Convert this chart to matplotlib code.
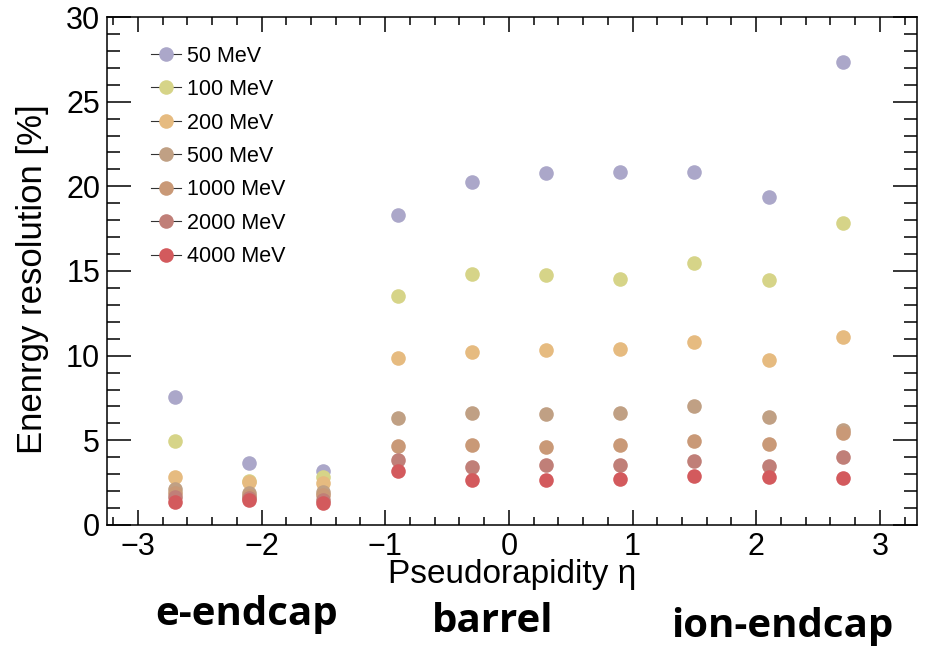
import numpy as np
import matplotlib.pyplot as plt
from matplotlib.lines import Line2D
from matplotlib.ticker import MultipleLocator

eta = [-2.7, -2.1, -1.5, -0.9, -0.3, 0.3, 0.9, 1.5, 2.1, 2.7]
energies = ["50 MeV", "100 MeV", "200 MeV", "500 MeV", "1000 MeV", "2000 MeV", "4000 MeV"]

res_50 = [7.56, 3.68, 3.21, 18.3, 20.26, 20.8, 20.85, 20.85, 19.37, 27.35]
res_100 = [4.96, 2.62, 2.85, 13.53, 14.83, 14.77, 14.53, 15.48, 14.47, 17.84]
res_200 = [2.85, 2.52, 2.46, 9.86, 10.22, 10.34, 10.4, 10.81, 9.75, 11.1]
res_500 = [2.1, 1.87, 1.97, 6.3, 6.6, 6.54, 6.62, 7.03, 6.38, 5.58]
res_1000 = [1.9, 1.72, 1.75, 4.67, 4.7, 4.63, 4.7, 4.94, 4.8, 5.45]
res_2000 = [1.67, 1.6, 1.5, 3.84, 3.43, 3.56, 3.54, 3.76, 3.47, 4.0]
res_4000 = [1.38, 1.46, 1.28, 3.21, 2.68, 2.64, 2.72, 2.91, 2.83, 2.76]

series = [res_50, res_100, res_200, res_500, res_1000, res_2000, res_4000]
colors = ["#aba7c9", "#d6d488", "#e6bb80", "#c0a084", "#c99977", "#c07f78", "#d35a5d"]

plt.rcParams['font.family'] = ['Liberation Sans', 'DejaVu Sans']

fig = plt.figure(figsize=(9.4, 6.47), dpi=100)
ax = fig.add_axes([0.1138, 0.1886, 0.8617, 0.7851])

for vals, c in zip(series, colors):
    ax.plot(eta, vals, 'o', color=c, markersize=10.5, markeredgewidth=0)

ax.set_xlim(-3.25, 3.3)
ax.set_ylim(0, 30)
ax.xaxis.set_major_locator(MultipleLocator(1))
ax.xaxis.set_minor_locator(MultipleLocator(0.2))
ax.yaxis.set_major_locator(MultipleLocator(5))
ax.yaxis.set_minor_locator(MultipleLocator(1))
ax.tick_params(axis='both', which='both', direction='in', top=True, right=True,
               labelsize=22, width=1.1)
ax.tick_params(axis='x', which='major', length=11, pad=5)
ax.tick_params(axis='x', which='minor', length=6)
ax.tick_params(axis='y', which='major', length=17, pad=5)
ax.tick_params(axis='y', which='minor', length=9.5)
for s in ax.spines.values():
    s.set_linewidth(1.1)
ax.set_xticks([-3, -2, -1, 0, 1, 2, 3])
ax.set_xticklabels(["\u22123", "\u22122", "\u22121", "0", "1", "2", "3"])

ax.set_xlabel("Pseudorapidity \u03b7", fontsize=24, labelpad=-2)
ax.set_ylabel("Enenrgy resolution [%]", fontsize=25)
ax.yaxis.set_label_coords(-0.072, 0.484)

handles = [Line2D([0], [0], color='#333333', lw=0.8, marker='o', markersize=10.5,
                  markerfacecolor=c, markeredgewidth=0) for c in colors]
ax.legend(handles, energies, loc='upper left', bbox_to_anchor=(0.03, 0.982),
          frameon=False, fontsize=15.5, handlelength=1.4, handletextpad=0.3,
          labelspacing=0.58)

fig.text(247 / 940, 1 - 614 / 647, "e-endcap", fontsize=29, fontweight='bold',
         family='Open Sans', ha='center', va='center')
fig.text(493 / 940, 1 - 621 / 647, "barrel", fontsize=29, fontweight='bold',
         family='Open Sans', ha='center', va='center')
fig.text(782 / 940, 1 - 626 / 647, "ion-endcap", fontsize=29, fontweight='bold',
         family='Open Sans', ha='center', va='center')

plt.savefig('out.png', dpi=100)
